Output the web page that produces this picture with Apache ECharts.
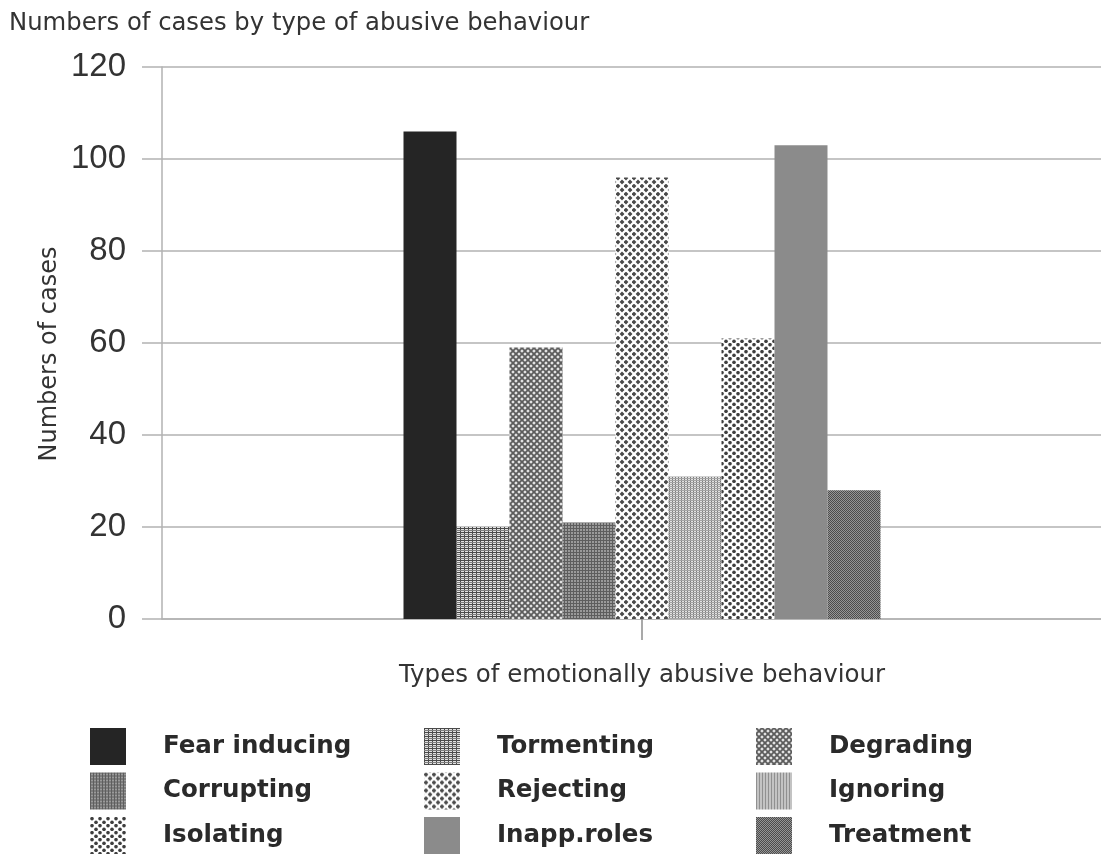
<!DOCTYPE html>
<html>
<head>
<meta charset="utf-8">
<script src="https://cdn.jsdelivr.net/npm/echarts@6/dist/echarts.min.js"></script>
<style>
  html, body { margin: 0; padding: 0; background: #ffffff; }
  #chart { width: 1101px; height: 855px; }
</style>
</head>
<body>
<div id="chart"></div>
<script>
// ---- data ----
const chartTitle = 'Numbers of cases by type of abusive behaviour';
const yAxisTitle = 'Numbers of cases';
const xAxisTitle = 'Types of emotionally abusive behaviour';
const categories = ['Fear inducing', 'Tormenting', 'Degrading', 'Corrupting', 'Rejecting', 'Ignoring', 'Isolating', 'Inapp.roles', 'Treatment'];
const values = [106, 20, 59, 21, 96, 31, 61, 103, 28];
const yMin = 0;
const yMax = 120;
const yStep = 20;
const legendCol1 = ['Fear inducing', 'Corrupting', 'Isolating'];
const legendCol2 = ['Tormenting', 'Rejecting', 'Inapp.roles'];
const legendCol3 = ['Degrading', 'Ignoring', 'Treatment'];

// ---- patterns ----
function tile(w, h, draw) {
  const c = document.createElement('canvas');
  c.width = w; c.height = h;
  const ctx = c.getContext('2d');
  draw(ctx, w, h);
  return { image: c, repeat: 'repeat' };
}
const fills = {
  'Fear inducing': '#252525',
  'Tormenting': tile(4, 4, (ctx) => {
    ctx.fillStyle = '#e2e2e2'; ctx.fillRect(0, 0, 4, 4);
    ctx.fillStyle = '#4a4a4a'; ctx.fillRect(0, 0, 4, 1); ctx.fillRect(0, 0, 1, 4);
    ctx.fillStyle = '#7e7e7e'; ctx.fillRect(0, 2, 4, 1);
  }),
  'Degrading': tile(6, 6, (ctx) => {
    ctx.fillStyle = '#e6e6e6'; ctx.fillRect(0, 0, 6, 6);
    ctx.strokeStyle = '#5c5c5c'; ctx.lineWidth = 1.8;
    ctx.beginPath();
    ctx.moveTo(-1, -1); ctx.lineTo(7, 7);
    ctx.moveTo(-1, 7); ctx.lineTo(7, -1);
    ctx.stroke();
  }),
  'Corrupting': tile(3, 3, (ctx) => {
    ctx.fillStyle = '#9a9a9a'; ctx.fillRect(0, 0, 3, 3);
    ctx.fillStyle = '#5e5e5e'; ctx.fillRect(0, 0, 3, 1); ctx.fillRect(0, 0, 1, 3);
  }),
  'Rejecting': tile(8, 8, (ctx) => {
    ctx.fillStyle = '#ffffff'; ctx.fillRect(0, 0, 8, 8);
    ctx.fillStyle = '#4a4a4a';
    const d = (x, y) => { ctx.beginPath(); ctx.moveTo(x, y - 2.4); ctx.lineTo(x + 2.4, y); ctx.lineTo(x, y + 2.4); ctx.lineTo(x - 2.4, y); ctx.closePath(); ctx.fill(); };
    d(2, 2); d(6, 6); d(-2, 6); d(6, -2); d(10, 6); d(6, 10);
  }),
  'Ignoring': tile(6, 4, (ctx) => {
    ctx.fillStyle = '#e2e2e2'; ctx.fillRect(0, 0, 6, 4);
    ctx.fillStyle = '#7c7c7c'; ctx.fillRect(0, 0, 1, 4); ctx.fillRect(3, 0, 1, 4);
    ctx.fillStyle = '#a4a4a4'; ctx.fillRect(0, 0, 6, 1); ctx.fillRect(0, 2, 6, 1);
  }),
  'Isolating': tile(8, 7, (ctx) => {
    ctx.fillStyle = '#ffffff'; ctx.fillRect(0, 0, 8, 7);
    ctx.fillStyle = '#3e3e3e';
    const dot = (x, y) => { ctx.beginPath(); ctx.arc(x, y, 1.8, 0, Math.PI * 2); ctx.fill(); };
    dot(2, 1.75); dot(6, 5.25); dot(-2, 5.25); dot(10, 5.25); dot(2, 8.75); dot(6, -1.75);
  }),
  'Inapp.roles': '#8b8b8b',
  'Treatment': tile(2, 2, (ctx) => {
    ctx.fillStyle = '#969696'; ctx.fillRect(0, 0, 2, 2);
    ctx.fillStyle = '#4c4c4c'; ctx.fillRect(0, 0, 1, 1); ctx.fillRect(1, 1, 1, 1);
  })
};

// ---- chart ----
const chart = echarts.init(document.getElementById('chart'), null, { renderer: 'canvas' });

const gridColor = '#b2b2b2';
const textColor = '#333333';

const series = categories.map((name, i) => ({
  name: name,
  type: 'bar',
  data: [values[i]],
  barWidth: 53,
  barGap: '0%',
  itemStyle: { color: fills[name] },
  emphasis: { disabled: true }
}));

function legendColumn(data, left) {
  return {
    data: data,
    orient: 'vertical',
    left: left,
    top: 728,
    height: 200,
    padding: 0,
    icon: 'rect',
    itemWidth: 36,
    itemHeight: 37,
    itemGap: 7.5,
    selectedMode: false,
    textStyle: {
      fontFamily: 'DejaVu Sans',
      fontWeight: 'bold',
      fontSize: 24.5,
      color: '#2a2a2a',
      padding: [0, 0, 0, 32]
    }
  };
}

const option = {
  backgroundColor: '#ffffff',
  animation: false,
  title: {
    text: chartTitle,
    left: 9,
    top: 12,
    padding: 0,
    textStyle: { fontFamily: 'DejaVu Sans', fontSize: 24.3, fontWeight: 'normal', color: textColor }
  },
  grid: { left: 162, top: 67, bottom: 236, width: 960, containLabel: false, outerBoundsMode: 'none' },
  legend: [
    legendColumn(legendCol1, 90),
    legendColumn(legendCol2, 424),
    legendColumn(legendCol3, 756)
  ],
  xAxis: {
    type: 'category',
    data: [''],
    name: xAxisTitle,
    nameLocation: 'middle',
    nameGap: 44,
    nameTextStyle: { fontFamily: 'DejaVu Sans', fontSize: 24.5, color: textColor },
    axisLine: { show: true, lineStyle: { color: gridColor, width: 1.5 } },
    axisTick: { show: true, alignWithLabel: true, length: 21, lineStyle: { color: '#8c8c8c', width: 1.5 } },
    axisLabel: { show: false }
  },
  yAxis: {
    type: 'value',
    min: yMin,
    max: yMax,
    interval: yStep,
    axisLine: { show: true, lineStyle: { color: gridColor, width: 1.5 } },
    axisTick: { show: true, inside: false, length: 20, lineStyle: { color: gridColor, width: 1.5 } },
    axisLabel: { margin: 36, fontFamily: 'Liberation Sans', fontSize: 33, color: textColor },
    splitLine: { show: true, lineStyle: { color: gridColor, width: 1.5 } }
  },
  graphic: [{
    type: 'text',
    x: 50,
    y: 354,
    rotation: Math.PI / 2,
    style: {
      text: yAxisTitle,
      fontFamily: 'DejaVu Sans',
      fontSize: 24,
      fill: textColor,
      align: 'center',
      verticalAlign: 'middle'
    }
  }],
  series: series
};
chart.setOption(option);
</script>
</body>
</html>
